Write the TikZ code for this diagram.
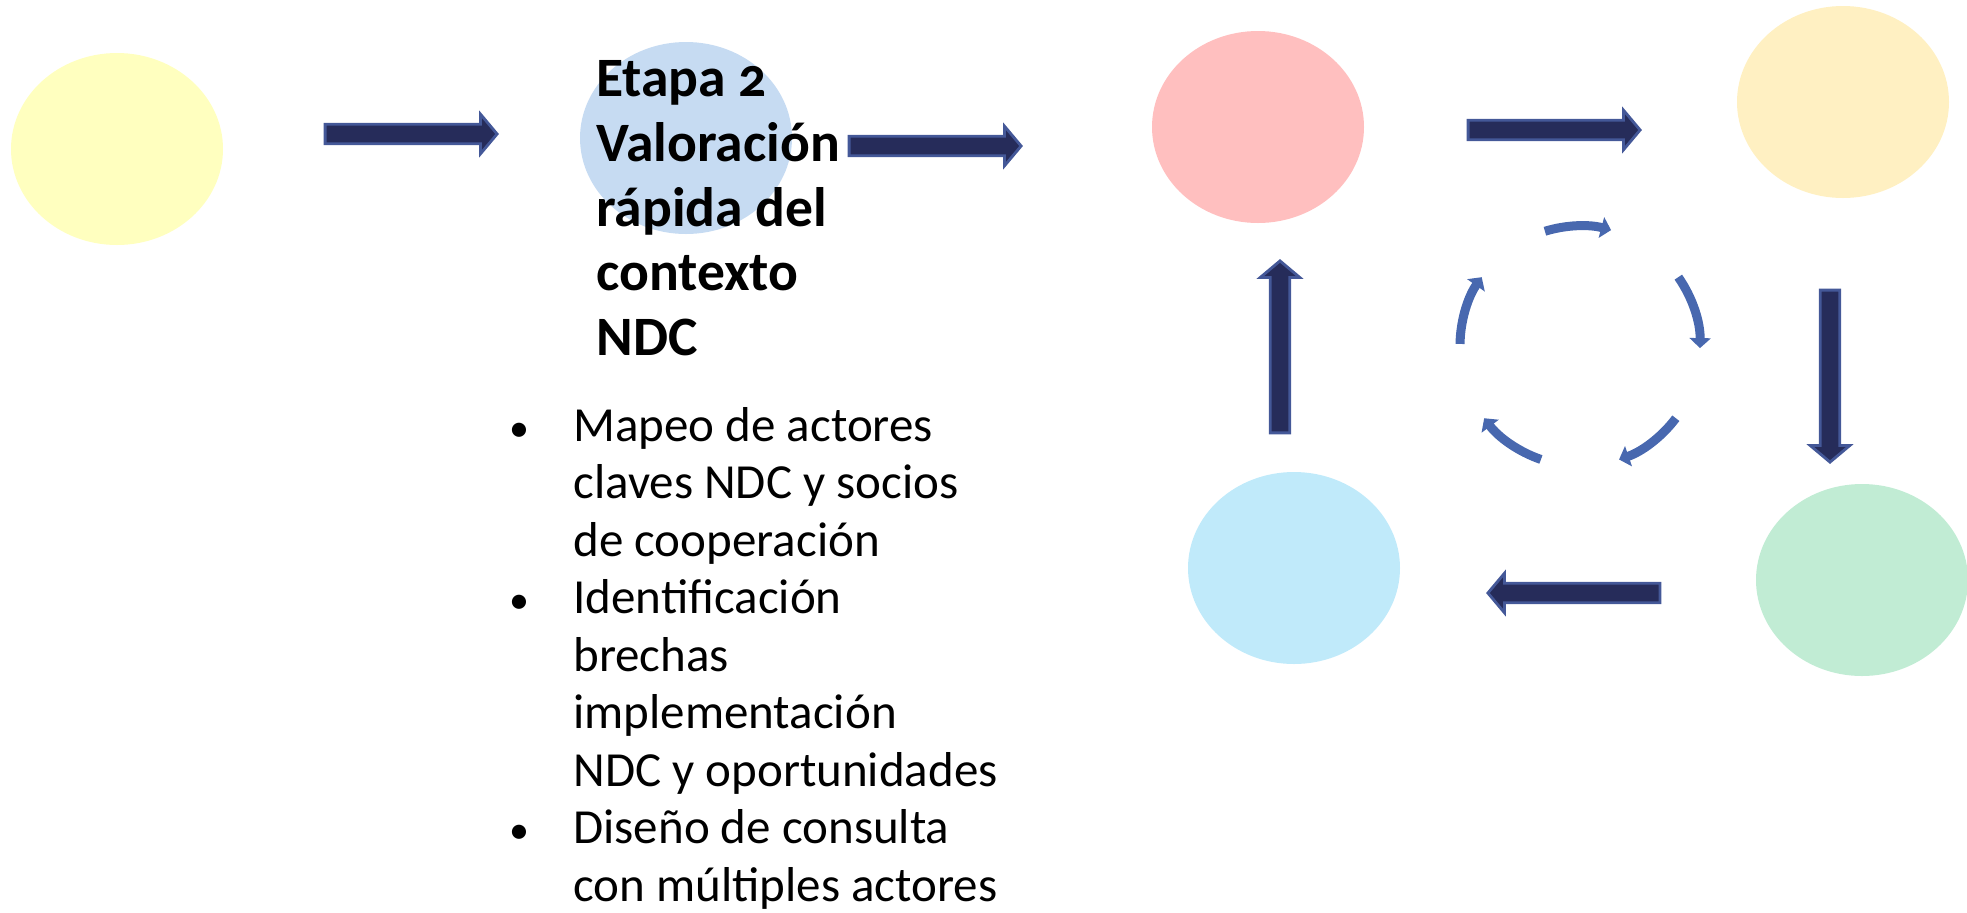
\documentclass[tikz,border=0pt]{standalone}
\usepackage{fontspec}
\setmainfont{Carlito}
\usetikzlibrary{shapes.geometric,shapes.arrows,arrows.meta}
\definecolor{cyel}{RGB}{255,255,191}
\definecolor{cblu}{RGB}{198,219,242}
\definecolor{cpnk}{RGB}{255,191,191}
\definecolor{cpch}{RGB}{255,240,194}
\definecolor{cgrn}{RGB}{193,236,212}
\definecolor{ccyn}{RGB}{192,234,250}
\definecolor{arrfill}{RGB}{38,44,90}
\definecolor{arrline}{RGB}{68,88,152}
\definecolor{cyc}{RGB}{72,104,175}
\newcommand{\bulmark}{\llap{\makebox[32pt][l]{\fontsize{20}{20}\selectfont •}}}
\begin{document}
\begin{tikzpicture}[x=0.5pt,y=0.5pt,
  blob/.style={ellipse, inner sep=0pt, draw=none, minimum width=106pt, minimum height=96pt},
  blockarrow/.style={single arrow, fill=arrfill, draw=arrline, line width=1.4pt,
    minimum height=86pt, minimum width=19pt, inner sep=0pt, inner ysep=4.2pt,
    single arrow head extend=5pt, single arrow tip angle=100, anchor=center},
  cycarrow/.style={draw=cyc, line width=4.5pt, -{Triangle[width=10.5pt,length=5pt]}},
  titletxt/.style={align=left, inner sep=0pt, font=\bfseries\fontsize{27.8}{32.4}\selectfont},
  bultxt/.style={align=left, inner sep=0pt, font=\fontsize{24.5}{28.75}\selectfont}]
\useasboundingbox (0,0) rectangle (1967,-912);
% ellipses
\node[blob, fill=cyel] (e1) at (117,-149) {};
\node[blob, fill=cblu] (e2) at (686,-138) {};
\node[blob, fill=cpnk] (e3) at (1258,-127) {};
\node[blob, fill=cpch] (e4) at (1843,-102) {};
\node[blob, fill=cgrn] (e5) at (1862,-580) {};
\node[blob, fill=ccyn] (e6) at (1294,-568) {};
% block arrows
\node[blockarrow] (a1) at (407,-134) {};
\node[blockarrow] (a2) at (931,-146) {};
\node[blockarrow] (a3) at (1550,-130) {};
\node[blockarrow, rotate=-90] (a4) at (1830,-372) {};
\node[blockarrow, rotate=180] (a5) at (1578,-593) {};
\node[blockarrow, rotate=90] (a6) at (1280,-351) {};
% cycle
\coordinate (cc) at (1580,-346);
\draw[cycarrow] ([shift={(107:120)}]cc) arc[start angle=107, end angle=75, radius=120];
\draw[cycarrow] ([shift={(35:120)}]cc) arc[start angle=35, end angle=-1, radius=120];
\draw[cycarrow] ([shift={(-37:120)}]cc) arc[start angle=-37, end angle=-71, radius=120];
\draw[cycarrow] ([shift={(-109:120)}]cc) arc[start angle=-109, end angle=-143, radius=120];
\draw[cycarrow] ([shift={(179:120)}]cc) arc[start angle=179, end angle=145, radius=120];
% texts
\node[titletxt, anchor=north west] (title) at (596,-60)
  {Etapa {\addfontfeatures{Numbers=OldStyle}2}\\Valoración\\rápida del\\contexto\\NDC};
\node[bultxt, anchor=north west] (bul) at (573,-407)
  {\bulmark Mapeo de actores\\
   claves NDC y socios\\
   de cooperación\\
   \bulmark Identificación\\
   brechas\\
   implementación\\
   NDC y oportunidades\\
   \bulmark Diseño de consulta\\
   con múltiples actores};
\end{tikzpicture}
\end{document}
